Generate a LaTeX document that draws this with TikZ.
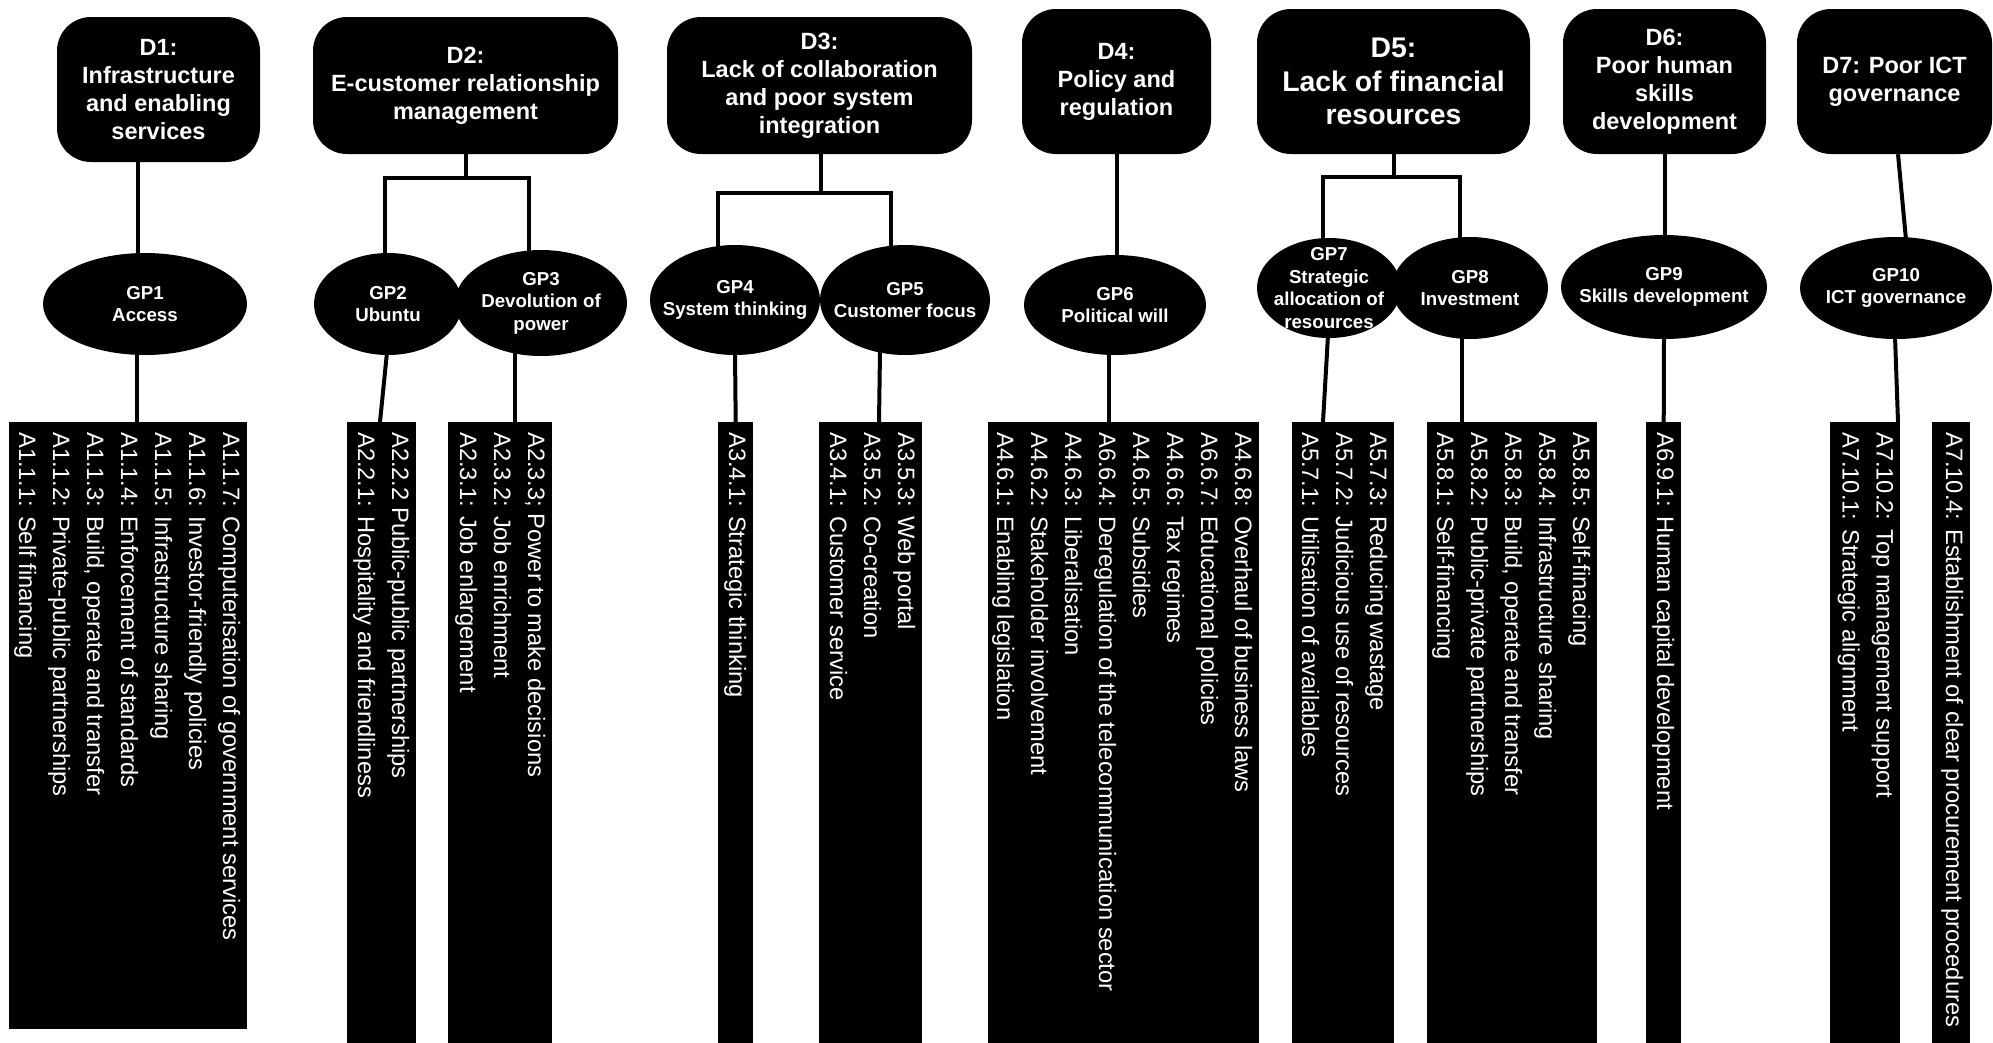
\documentclass[tikz,border=0pt]{standalone}
\usepackage{fontspec}
\setmainfont{Liberation Sans}
\usetikzlibrary{calc,shapes.geometric}
\begin{document}
\begin{tikzpicture}[x=1pt,y=-1pt,
  dbox/.style={fill=black, text=white, rounded corners=34pt, align=center,
    inner sep=0pt, font=\bfseries\fontsize{23.5}{28}\selectfont},
  gp/.style={ellipse, fill=black, inner sep=0pt},
  gptext/.style={text=white, align=center, inner sep=0pt,
    font=\bfseries\fontsize{18.7}{22.5}\selectfont},
  listbox/.style={rectangle, fill=black, inner sep=0pt, anchor=north west},
  listtext/.style={text=white, rotate=-90, anchor=north west, align=left,
    inner sep=0pt, font=\fontsize{23.7}{34}\selectfont},
  conn/.style={line width=4pt, draw=black}
]
% page
\fill[white] (0,0) rectangle (1993,1042);
\useasboundingbox (0,0) rectangle (1993,1042);

% dimension boxes
\node[dbox, minimum width=203pt, minimum height=145pt] (D1) at (158.5,89.5)
  {D1:\\Infrastructure\\and enabling\\services};
\node[dbox, minimum width=305pt, minimum height=137pt] (D2) at (465.5,85.5)
  {D2:\\E-customer relationship\\management};
\node[dbox, minimum width=305pt, minimum height=137pt] (D3) at (819.5,85.5)
  {D3:\\Lack of collaboration\\and poor system\\integration};
\node[dbox, minimum width=189pt, minimum height=145pt] (D4) at (1116.5,81.5)
  {D4:\\Policy and\\regulation};
\node[dbox, minimum width=273pt, minimum height=145pt,
  font=\bfseries\fontsize{28.4}{33.5}\selectfont] (D5) at (1393.5,81.5)
  {D5:\\Lack of financial\\resources};
\node[dbox, minimum width=203pt, minimum height=145pt] (D6) at (1664.5,81.5)
  {D6:\\Poor human\\skills\\development};
\node[dbox, minimum width=195pt, minimum height=145pt] (D7) at (1894.5,81.5)
  {D7: Poor ICT\\governance};

% guiding principles
\node[gp, minimum width=204pt, minimum height=102pt] (GP1) at (145,304) {};
\node[gp, minimum width=148pt, minimum height=102pt] (GP2) at (388,304) {};
\node[gp, minimum width=172pt, minimum height=106pt] (GP3) at (541,303) {};
\node[gp, minimum width=170pt, minimum height=110pt] (GP4) at (735,300) {};
\node[gp, minimum width=170pt, minimum height=110pt] (GP5) at (905,300) {};
\node[gp, minimum width=182pt, minimum height=100pt] (GP6) at (1115,305) {};
\node[gp, minimum width=144pt, minimum height=100pt] (GP7) at (1329,288) {};
\node[gp, minimum width=156pt, minimum height=102pt] (GP8) at (1470,288) {};
\node[gp, minimum width=206pt, minimum height=104pt] (GP9) at (1664,287) {};
\node[gp, minimum width=192pt, minimum height=102pt] (GP10) at (1896,288) {};

\node[gptext] (GP1t) at (GP1) {GP1\\Access};
\node[gptext] (GP2t) at (GP2) {GP2\\Ubuntu};
\node[gptext] (GP3t) at (GP3) {GP3\\Devolution of\\power};
\node[gptext] (GP4t) at (GP4) {GP4\\System thinking};
\node[gptext] (GP5t) at (GP5) {GP5\\Customer focus};
\node[gptext] (GP6t) at (GP6) {GP6\\Political will};
\node[gptext] (GP7t) at (GP7) {GP7\\Strategic\\allocation of\\resources};
\node[gptext] (GP8t) at (GP8) {GP8\\Investment};
\node[gptext] (GP9t) at (GP9) {GP9\\Skills development};
\node[gptext] (GP10t) at (GP10) {GP10\\ICT governance};

% action lists
\node[listbox, minimum width=238pt, minimum height=607pt] (L1) at (9,422) {};
\node[listbox, minimum width=69pt, minimum height=624pt] (L2) at (347,422) {};
\node[listbox, minimum width=104pt, minimum height=624pt] (L3) at (448,422) {};
\node[listbox, minimum width=35pt, minimum height=624pt] (L4) at (718,422) {};
\node[listbox, minimum width=103pt, minimum height=624pt] (L5) at (819,422) {};
\node[listbox, minimum width=271pt, minimum height=624pt] (L6) at (988,422) {};
\node[listbox, minimum width=102pt, minimum height=624pt] (L7) at (1292,422) {};
\node[listbox, minimum width=170pt, minimum height=624pt] (L8) at (1427,422) {};
\node[listbox, minimum width=35pt, minimum height=624pt] (L9) at (1646,422) {};
\node[listbox, minimum width=70pt, minimum height=624pt] (L10) at (1830,422) {};
\node[listbox, minimum width=38pt, minimum height=624pt] (L11) at (1932,422) {};

\node[listtext] (L1t) at ($(L1.north east)+(-7,10)$)
  {A1.1.7: Computerisation of government services\\
   A1.1.6: Investor-friendly policies\\
   A1.1.5: Infrastructure sharing\\
   A1.1.4: Enforcement of standards\\
   A1.1.3: Build, operate and transfer\\
   A1.1.2: Private-public partnerships\\
   A1.1.1: Self financing};
\node[listtext] (L2t) at ($(L2.north east)+(-7,10)$)
  {A2.2.2 Public-public partnerships\\
   A2.2.1: Hospitality and friendliness};
\node[listtext] (L3t) at ($(L3.north east)+(-7,10)$)
  {A2.3.3; Power to make decisions\\
   A2.3.2: Job enrichment\\
   A2.3.1: Job enlargement};
\node[listtext] (L4t) at ($(L4.north east)+(-7,10)$)
  {A3.4.1: Strategic thinking};
\node[listtext] (L5t) at ($(L5.north east)+(-7,10)$)
  {A3.5.3: Web portal\\
   A3.5.2: Co-creation\\
   A3.4.1: Customer service};
\node[listtext] (L6t) at ($(L6.north east)+(-7,10)$)
  {A4.6.8: Overhaul of business laws\\
   A6.6.7: Educational policies\\
   A4.6.6: Tax regimes\\
   A4.6.5: Subsidies\\
   A6.6.4: Deregulation of the telecommunication sector\\
   A4.6.3: Liberalisation\\
   A4.6.2: Stakeholder involvement\\
   A4.6.1: Enabling legislation};
\node[listtext] (L7t) at ($(L7.north east)+(-7,10)$)
  {A5.7.3: Reducing wastage\\
   A5.7.2: Judicious use of resources\\
   A5.7.1: Utilisation of availables};
\node[listtext] (L8t) at ($(L8.north east)+(-7,10)$)
  {A5.8.5: Self-finacing\\
   A5.8.4: Infrastructure sharing\\
   A5.8.3: Build, operate and transfer\\
   A5.8.2: Public-private partnerships\\
   A5.8.1: Self-financing};
\node[listtext] (L9t) at ($(L9.north east)+(-7,10)$)
  {A6.9.1: Human capital development};
\node[listtext] (L10t) at ($(L10.north east)+(-7,10)$)
  {A7.10.2: Top management support\\
   A7.10.1: Strategic alignment};
\node[listtext] (L11t) at ($(L11.north east)+(-7,10)$)
  {A7.10.4: Establishment of clear procurement procedures};

% connectors: dimensions to principles
\draw[conn] ($(D1.south)+(-20.5,0)$) -- ($(GP1.north)+(-7,3)$);
\draw[conn] (D2.south) -- ($(D2.south)+(0,24)$);
\draw[conn] ($(GP2.north)+(-3,3)$) |- ($(GP3.north)+(-12,-72)$) -- ($(GP3.north)+(-12,4)$);
\draw[conn] ($(D3.south)+(1.5,0)$) -- ($(D3.south)+(1.5,39)$);
\draw[conn] ($(GP4.north)+(-17,4)$) |- ($(GP5.north)+(-14,-52)$) -- ($(GP5.north)+(-14,4)$);
\draw[conn] ($(D4.south)+(0.5,0)$) -- ($(GP6.north)+(2,3)$);
\draw[conn] (D5.south) -- ($(D5.south)+(0,24)$);
\draw[conn] ($(GP7.north)+(-6,3)$) |- ($(GP8.north)+(-10,-60)$) -- ($(GP8.north)+(-10,3)$);
\draw[conn] (D6.south) -- ($(GP9.north)+(0.5,3)$);
\draw[conn] ($(D7.south)+(3.5,0)$) -- ($(GP10.north)+(10,3)$);

% connectors: principles to actions
\draw[conn] ($(GP1.south)+(-8,-3)$) -- ($(L1.north west)+(128,0)$);
\draw[conn] ($(GP2.south)+(-1,-3)$) -- ($(L2.north west)+(33,0)$);
\draw[conn] ($(GP3.south)+(-26,-4)$) -- ($(L3.north west)+(67,0)$);
\draw[conn] ($(GP4.south)+(0,-3)$) -- (L4.north);
\draw[conn] ($(GP5.south)+(-25,-4)$) -- ($(L5.north west)+(60,0)$);
\draw[conn] ($(GP6.south)+(-6,-3)$) -- ($(L6.north west)+(121,0)$);
\draw[conn] ($(GP7.south)+(-1,-3)$) -- ($(L7.north west)+(31,0)$);
\draw[conn] ($(GP8.south)+(-8,-3)$) -- ($(L8.north west)+(35,0)$);
\draw[conn] ($(GP9.south)+(0,-3)$) -- (L9.north);
\draw[conn] ($(GP10.south)+(-1,-3)$) -- ($(L10.north west)+(68,0)$);
\end{tikzpicture}
\end{document}
